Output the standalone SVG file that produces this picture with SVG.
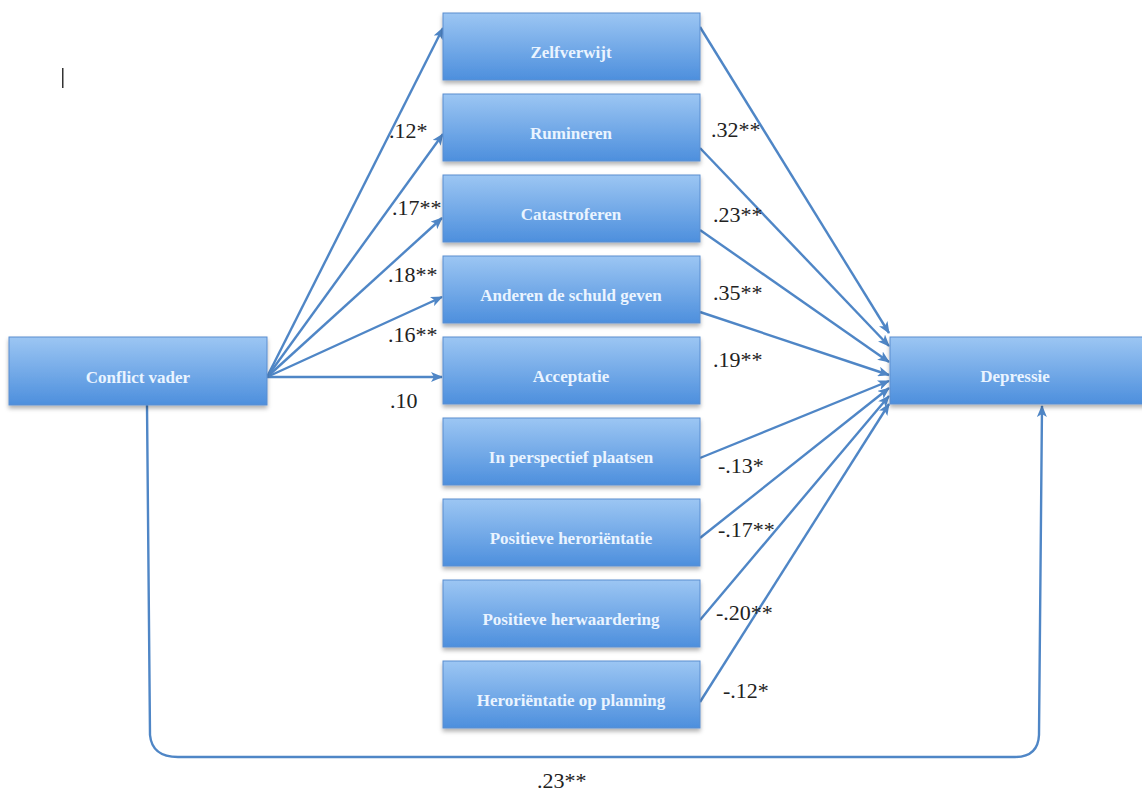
<svg xmlns="http://www.w3.org/2000/svg" width="1142" height="792" viewBox="0 0 1142 792">
<defs>
<linearGradient id="g" x1="0" y1="0" x2="0" y2="1">
<stop offset="0" stop-color="#9cc6f3"/>
<stop offset="1" stop-color="#4d8fdd"/>
</linearGradient>
<filter id="sh" x="-10%" y="-20%" width="120%" height="150%">
<feDropShadow dx="0" dy="3" stdDeviation="2" flood-color="#000" flood-opacity="0.3"/>
</filter>
<marker id="ah" markerWidth="12" markerHeight="10" refX="11" refY="5" orient="auto" markerUnits="userSpaceOnUse">
<path d="M0,0 L12,5 L0,10 L3,5 Z" fill="#4f86c6"/>
</marker>
<style>
.box{fill:url(#g);stroke:#5a8ed0;stroke-width:1;filter:url(#sh)}
.bt{font-family:"Liberation Serif","DejaVu Serif",serif;font-weight:bold;font-size:17px;fill:#eaf4ff;text-anchor:middle}
.c{fill:none;stroke:#4f86c6;stroke-width:2.4}
.lb{font-family:"Liberation Serif","DejaVu Serif",serif;font-size:22px;fill:#222}
</style>
</defs>
<rect x="62" y="68" width="1.5" height="20" fill="#333"/>
<g id="connectors">
<line class="c" x1="267" y1="377" x2="443" y2="28" marker-end="url(#ah)"/>
<line class="c" x1="267" y1="377" x2="443" y2="134" marker-end="url(#ah)"/>
<line class="c" x1="267" y1="377" x2="442" y2="218" marker-end="url(#ah)"/>
<line class="c" x1="267" y1="377" x2="442" y2="297" marker-end="url(#ah)"/>
<line class="c" x1="267" y1="377" x2="442" y2="377" marker-end="url(#ah)"/>
<line class="c" x1="700" y1="27" x2="889" y2="333" marker-end="url(#ah)"/>
<line class="c" x1="700" y1="148" x2="889" y2="346" marker-end="url(#ah)"/>
<line class="c" x1="700" y1="230" x2="889" y2="362" marker-end="url(#ah)"/>
<line class="c" x1="700" y1="312" x2="889" y2="375" marker-end="url(#ah)"/>
<line class="c" x1="700" y1="458" x2="889" y2="381" marker-end="url(#ah)"/>
<line class="c" x1="700" y1="538" x2="889" y2="388" marker-end="url(#ah)"/>
<line class="c" x1="700" y1="620" x2="889" y2="396" marker-end="url(#ah)"/>
<line class="c" x1="700" y1="702" x2="889" y2="404" marker-end="url(#ah)"/>
<path class="c" d="M147,405 L150,735 Q152,757 178,757 L1015,757 Q1038,757 1039,735 L1042,406" marker-end="url(#ah)"/>
</g>
<g id="n-conflict"><rect class="box" x="9" y="337" width="258" height="68"/><text class="bt" x="138" y="383">Conflict vader</text></g>
<g id="n-zelf"><rect class="box" x="443" y="13" width="257" height="67"/><text class="bt" x="571" y="58">Zelfverwijt</text></g>
<g id="n-rum"><rect class="box" x="443" y="94" width="257" height="67"/><text class="bt" x="571" y="139">Rumineren</text></g>
<g id="n-cat"><rect class="box" x="443" y="175" width="257" height="67"/><text class="bt" x="571" y="220">Catastroferen</text></g>
<g id="n-and"><rect class="box" x="443" y="256" width="257" height="67"/><text class="bt" x="571" y="301">Anderen de schuld geven</text></g>
<g id="n-acc"><rect class="box" x="443" y="337" width="257" height="67"/><text class="bt" x="571" y="382">Acceptatie</text></g>
<g id="n-pers"><rect class="box" x="443" y="418" width="257" height="67"/><text class="bt" x="571" y="463">In perspectief plaatsen</text></g>
<g id="n-posh"><rect class="box" x="443" y="499" width="257" height="67"/><text class="bt" x="571" y="544">Positieve heroriëntatie</text></g>
<g id="n-posw"><rect class="box" x="443" y="580" width="257" height="67"/><text class="bt" x="571" y="625">Positieve herwaardering</text></g>
<g id="n-plan"><rect class="box" x="443" y="661" width="257" height="67"/><text class="bt" x="571" y="706">Heroriëntatie op planning</text></g>
<g id="n-dep"><rect class="box" x="890" y="337" width="260" height="67"/><text class="bt" x="1015" y="382">Depressie</text></g>
<g id="labels">
<text class="lb" x="389" y="138">.12*</text>
<text class="lb" x="392" y="215">.17**</text>
<text class="lb" x="388" y="282">.18**</text>
<text class="lb" x="388" y="342">.16**</text>
<text class="lb" x="390" y="408">.10</text>
<text class="lb" x="711" y="137">.32**</text>
<text class="lb" x="713" y="222">.23**</text>
<text class="lb" x="713" y="300">.35**</text>
<text class="lb" x="713" y="367">.19**</text>
<text class="lb" x="718" y="473">-.13*</text>
<text class="lb" x="718" y="537">-.17**</text>
<text class="lb" x="716" y="620">-.20**</text>
<text class="lb" x="723" y="698">-.12*</text>
<text class="lb" x="537" y="788">.23**</text>
</g>
</svg>
